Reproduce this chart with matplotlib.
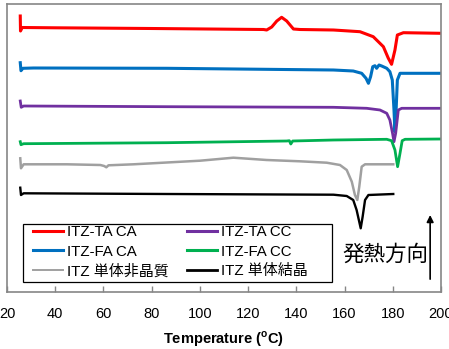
import matplotlib
matplotlib.use("Agg")
import matplotlib.pyplot as plt
from matplotlib.patches import Rectangle

plt.rcParams['font.family'] = ['Liberation Sans', 'Noto Sans CJK JP']
plt.rcParams['mathtext.fontset'] = 'custom'
plt.rcParams['mathtext.rm'] = 'Liberation Sans'
plt.rcParams['mathtext.bf'] = 'Liberation Sans:bold'

# Temperature (°C) and heat flow (arbitrary units, stacked offsets)
red_T = [25.5, 25.6, 26.3, 40, 80, 126.4, 127.7, 129.8, 131.9, 133.9, 136.0, 138.8, 141.5,
         155.4, 166.4, 171.9, 176.1, 178.1, 179.5, 180.9, 181.9, 184.4, 200]
red_H = [276.0, 261, 264.5, 264.2, 263.5, 262.5, 262, 265, 271, 274.7, 271, 263, 262.5,
         262, 260.3, 255.3, 245.3, 234, 227.7, 242, 257, 259.3, 258.7]

blue_T = [25.5, 25.8, 26.6, 31, 86.3, 155.4, 163.6, 167.1, 168.9, 169.9, 170.8, 171.7, 172.6,
          173.3, 174.3, 175.4, 177.5, 178.8, 179.8, 180.5, 180.9, 181.3, 181.9, 183.0, 200]
blue_H = [229.3, 221.3, 223.7, 224, 223.7, 222, 221, 218.7, 213.7, 208.7, 215.3, 225.3, 226.3,
          223.7, 227, 226, 223.7, 220.3, 212, 182, 160, 177, 212, 218.7, 218.7]

purple_T = [25.5, 25.9, 26.9, 86.3, 155.4, 169.2, 174.7, 177.5, 178.8, 179.9, 180.5, 181.2,
            182.3, 183.7, 200]
purple_H = [191, 184.7, 186, 185.3, 184.7, 183.7, 182, 178.7, 172, 158.7, 150.3, 158.7,
            182, 183.7, 183.7]

green_T = [25.5, 25.8, 26.9, 86.3, 136.0, 137.1, 137.7, 138.5, 155.4, 177.5, 179.5, 180.9,
           182.0, 183.0, 183.9, 185.1, 200]
green_H = [150.3, 147.3, 148.3, 149.3, 151, 151.3, 148, 151, 152, 152.7, 151.3, 142,
           125.3, 138.7, 151.3, 152.7, 153]

gray_T = [25.5, 25.8, 26.9, 44.9, 58.7, 60.3, 61.2, 62.1, 72.5, 100.1, 113.9, 127.7, 141.5,
          152.6, 158.1, 160.9, 163.0, 164.3, 165.3, 166.1, 167.1, 168.5, 180.2]
gray_H = [133.7, 123.7, 127.7, 127.7, 127, 126, 124.7, 126.7, 127.7, 131.3, 134.3, 132, 130.7,
          129.3, 127, 122, 110.3, 97, 92, 105.3, 125.3, 127.7, 127.7]

black_T = [25.5, 25.8, 26.9, 86.3, 155.4, 160.9, 163.6, 165.0, 166.7, 167.5, 168.5, 169.9, 180.2]
black_H = [104.3, 97, 98.7, 98, 97.3, 96, 92, 82, 63.7, 75.3, 92, 97, 98]

labels = ['ITZ-TA CA', 'ITZ-FA CA', 'ITZ 単体非晶質', 'ITZ-TA CC', 'ITZ-FA CC', 'ITZ 単体結晶']
colors = ['#FF0000', '#0070C0', '#A0A0A0', '#7030A0', '#00B050', '#000000']
xticks = [20, 40, 60, 80, 100, 120, 140, 160, 180, 200]

fig = plt.figure(figsize=(4.49, 3.49), dpi=100)
ax = fig.add_axes([7/449, 1-292/349, 434/449, 288/349])

series = [(red_T, red_H), (blue_T, blue_H), (gray_T, gray_H),
          (purple_T, purple_H), (green_T, green_H), (black_T, black_H)]
widths = [2.2, 2.2, 1.8, 2.0, 2.0, 1.7]
for (t, h), lab, c, w in zip(series, labels, colors, widths):
    ax.plot(t, h, color=c, lw=w, label=lab, solid_joinstyle='round')

ax.set_xlim(20, 200)
ax.set_ylim(0, 288)
ax.set_xticks(xticks)
ax.set_xticklabels([str(v) for v in xticks])
ax.set_yticks([])
ax.tick_params(axis='x', direction='in', length=4, width=1, color='#868686',
               labelsize=10.5, pad=11)
for s in ax.spines.values():
    s.set_color('#868686')
    s.set_linewidth(1.2)

ax.set_xlabel(r'Temperature ($^{\mathbf{o}}$C)', fontsize=10.5, fontweight='bold', labelpad=6)

# legend frame
ax.add_patch(Rectangle((0.037, 0.035), 0.712, 0.201, transform=ax.transAxes,
                       facecolor='white', edgecolor='black', lw=0.9, zorder=4))
leg = ax.legend(loc='upper left', ncol=2, bbox_to_anchor=(0.0599, 0.232),
                borderaxespad=0, borderpad=0, fontsize=10.8, frameon=False,
                handlelength=2.0, handletextpad=0.27, labelspacing=0.36,
                columnspacing=1.2)
leg.set_zorder(5)
for lh, w in zip(leg.get_lines(), [2.2, 2.2, 1.4, 2.2, 2.2, 2.0]):
    lh.set_linewidth(w)

ax.text(0.871, 0.128, '発熱方向', transform=ax.transAxes, fontsize=15.5,
        ha='center', va='center', family=['Noto Sans CJK JP'])
ax.annotate('', xy=(0.975, 0.277), xytext=(0.975, 0.035), xycoords='axes fraction',
            arrowprops=dict(arrowstyle='-|>', color='black', lw=1.2, mutation_scale=10))

fig.savefig('out.png', dpi=100)
